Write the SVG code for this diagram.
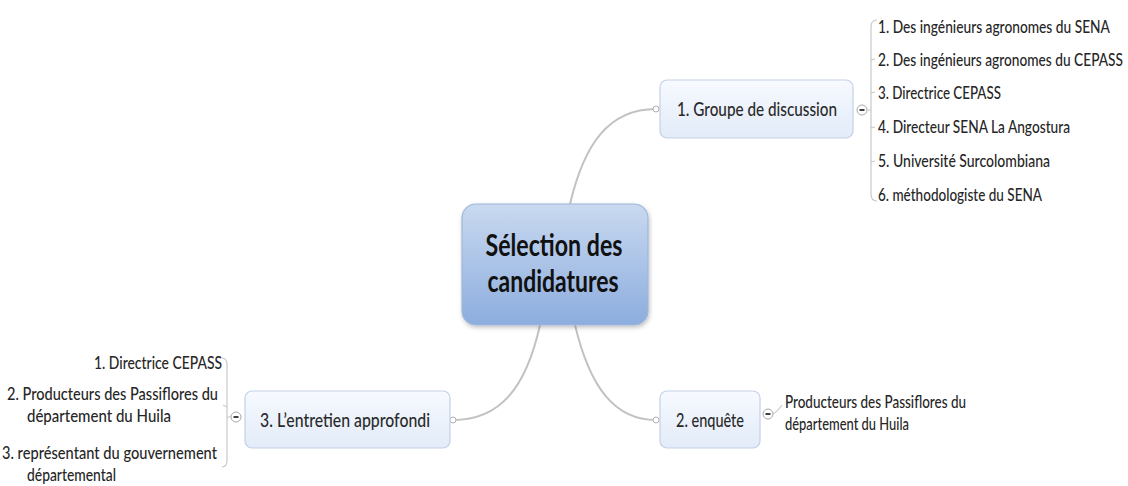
<svg xmlns="http://www.w3.org/2000/svg" width="1128" height="486" viewBox="0 0 1128 486">
<defs>
  <linearGradient id="gCentral" x1="0" y1="0" x2="0" y2="1">
    <stop offset="0" stop-color="#c9d9f0"/>
    <stop offset="1" stop-color="#8cadde"/>
  </linearGradient>
  <linearGradient id="gBranch" x1="0" y1="0" x2="0" y2="1">
    <stop offset="0" stop-color="#f7faff"/>
    <stop offset="1" stop-color="#e2ebf8"/>
  </linearGradient>
  <filter id="shadow" x="-10%" y="-10%" width="125%" height="130%">
    <feDropShadow dx="1" dy="2" stdDeviation="2" flood-color="#000" flood-opacity="0.25"/>
  </filter>
</defs>
<style>
  .central { fill: url(#gCentral); stroke: #9fb7d9; stroke-width: 1.2; }
  .branch { fill: url(#gBranch); stroke: #c3d1e6; stroke-width: 1.2; }
  .t { font-family: Lato, "Liberation Sans", sans-serif; fill: #222; }
  .ct { font-size: 31px; font-weight: 700; fill: #111; text-anchor: middle; }
  .bt { font-size: 20px; font-weight: 500; text-anchor: middle; fill: #2a2a2a; }
  .lt { font-size: 16.5px; font-weight: 500; fill: #262626; }
  .link { fill: none; stroke: #c2c2c2; stroke-width: 2; }
  .br { fill: none; stroke: #c8c8c8; stroke-width: 1.2; }
  .dot { fill: #fff; stroke: #b0b0b0; stroke-width: 1; }
  .col { fill: #fff; stroke: #a8a8a8; stroke-width: 1; }
  .minus { stroke: #111; stroke-width: 1.6; }
</style>

<g id="connectors">
  <path class="link" d="M570,204 C584,145 608,109 656,109"/>
  <path class="link" d="M575,325 C590,388 615,420 656,420"/>
  <path class="link" d="M540,325 C526,388 500,420 453,420"/>
  <circle class="dot" cx="656" cy="109" r="3"/>
  <circle class="dot" cx="656" cy="420" r="3"/>
  <circle class="dot" cx="453" cy="420" r="3"/>
</g>

<g id="central" filter="url(#shadow)">
  <rect class="central" x="462" y="204" width="186" height="121" rx="14"/>
</g>
<g id="central-text">
  <text class="t ct" x="554" y="256" textLength="137" lengthAdjust="spacingAndGlyphs">Sélection des</text>
  <text class="t ct" x="553" y="292" textLength="131" lengthAdjust="spacingAndGlyphs">candidatures</text>
</g>

<g id="node1">
  <rect class="branch" x="660" y="80" width="193" height="58" rx="7"/>
  <text class="t bt" x="757" y="116" textLength="160" lengthAdjust="spacingAndGlyphs">1. Groupe de discussion</text>
  <circle class="col" cx="862" cy="110" r="5"/>
  <line class="minus" x1="859.5" y1="110" x2="864.5" y2="110"/>
  <path class="br" d="M867,110 L871,110 M877,20 Q871,20 871,27 L871,194 Q871,201 877,201 M871,60 L875,59 M871,93 L875,92 M871,128 L875,127 M871,162 L875,161"/>
</g>

<g id="node1-items">
  <text class="t lt" x="878" y="33" textLength="232" lengthAdjust="spacingAndGlyphs">1. Des ingénieurs agronomes du SENA</text>
  <text class="t lt" x="878" y="66" textLength="245" lengthAdjust="spacingAndGlyphs">2. Des ingénieurs agronomes du CEPASS</text>
  <text class="t lt" x="878" y="99" textLength="123" lengthAdjust="spacingAndGlyphs">3. Directrice CEPASS</text>
  <text class="t lt" x="878" y="133" textLength="192" lengthAdjust="spacingAndGlyphs">4. Directeur SENA La Angostura</text>
  <text class="t lt" x="878" y="167" textLength="172" lengthAdjust="spacingAndGlyphs">5. Université Surcolombiana</text>
  <text class="t lt" x="878" y="201" textLength="164" lengthAdjust="spacingAndGlyphs">6. méthodologiste du SENA</text>
</g>

<g id="node2">
  <rect class="branch" x="660" y="391" width="100" height="57" rx="7"/>
  <text class="t bt" x="710" y="427" textLength="68" lengthAdjust="spacingAndGlyphs">2. enquête</text>
  <circle class="col" cx="768" cy="414" r="5"/>
  <line class="minus" x1="765.5" y1="414" x2="770.5" y2="414"/>
  <path class="br" d="M773,414 Q777,412 782,405"/>
  <text class="t lt" x="785" y="408" textLength="181" lengthAdjust="spacingAndGlyphs">Producteurs des Passiflores du</text>
  <text class="t lt" x="785" y="430" textLength="124" lengthAdjust="spacingAndGlyphs">département du Huila</text>
</g>

<g id="node3">
  <rect class="branch" x="245" y="391" width="205" height="57" rx="7"/>
  <text class="t bt" x="345" y="427" textLength="170" lengthAdjust="spacingAndGlyphs">3. L’entretien approfondi</text>
  <circle class="col" cx="236" cy="417" r="5"/>
  <line class="minus" x1="233.5" y1="417" x2="238.5" y2="417"/>
  <path class="br" d="M231,417 L227,417 M222,358 Q227,358 227,365 L227,460 Q227,467 222,467 M227,407 L223,405"/>
</g>

<g id="node3-items">
  <text class="t lt" x="222" y="369" text-anchor="end" textLength="128" lengthAdjust="spacingAndGlyphs">1. Directrice CEPASS</text>
  <text class="t lt" x="7" y="400" textLength="211" lengthAdjust="spacingAndGlyphs">2. Producteurs des Passiflores du</text>
  <text class="t lt" x="27" y="422" textLength="144" lengthAdjust="spacingAndGlyphs">département du Huila</text>
  <text class="t lt" x="2" y="459" textLength="215" lengthAdjust="spacingAndGlyphs">3. représentant du gouvernement</text>
  <text class="t lt" x="27" y="481" textLength="89" lengthAdjust="spacingAndGlyphs">départemental</text>
</g>
</svg>
